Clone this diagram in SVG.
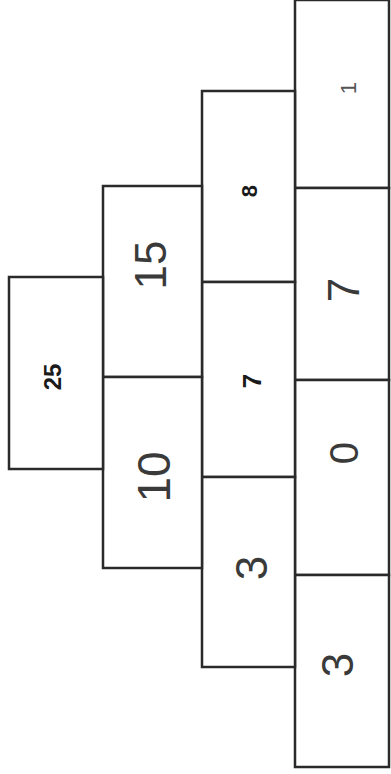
<svg xmlns="http://www.w3.org/2000/svg" width="391" height="774" viewBox="0 0 391 774">
<style>
.c{fill:#fff;stroke:#2a2a2a;stroke-width:2.5}
.t{font-family:"Liberation Sans",Arial,sans-serif;fill:#3a3a3a;text-anchor:middle;dominant-baseline:central}
.b{font-weight:bold;fill:#1a1a1a}
.l{font-weight:normal;fill:#555}
</style>
<rect width="391" height="774" fill="#fff"/>
<g id="base">
<g id="b1"><rect class="c" x="295" y="0" width="94" height="188"/><text class="t l" font-size="22" transform="translate(348,88) rotate(-90)">1</text></g>
<g id="b2"><rect class="c" x="295" y="188" width="94" height="192"/><text class="t" font-size="44" transform="translate(343,290) rotate(-90)">7</text></g>
<g id="b3"><rect class="c" x="295" y="380" width="94" height="195"/><text class="t" font-size="40" transform="translate(344,453) rotate(-90)">0</text></g>
<g id="b4"><rect class="c" x="295" y="575" width="94" height="192"/><text class="t" font-size="44" transform="translate(337,665) rotate(-90)">3</text></g>
</g>
<g id="row2">
<g id="r2a"><rect class="c" x="202" y="91" width="93" height="191"/><text class="t b" font-size="22" transform="translate(249,191) rotate(-90)">8</text></g>
<g id="r2b"><rect class="c" x="202" y="282" width="93" height="195"/><text class="t b" font-size="26" transform="translate(252,381) rotate(-90)">7</text></g>
<g id="r2c"><rect class="c" x="202" y="477" width="93" height="190"/><text class="t" font-size="44" transform="translate(251,568) rotate(-90)">3</text></g>
</g>
<g id="row3">
<g id="r3a"><rect class="c" x="103" y="186" width="99" height="191"/><text class="t" font-size="44" transform="translate(150,265) rotate(-90)">15</text></g>
<g id="r3b"><rect class="c" x="103" y="377" width="99" height="191"/><text class="t" font-size="46" transform="translate(154,477) rotate(-90)">10</text></g>
</g>
<g id="top">
<rect class="c" x="9" y="277" width="94" height="192"/><text class="t b" font-size="24" transform="translate(52,377) rotate(-90)">25</text>
</g>
<g id="connectors"></g>
</svg>
